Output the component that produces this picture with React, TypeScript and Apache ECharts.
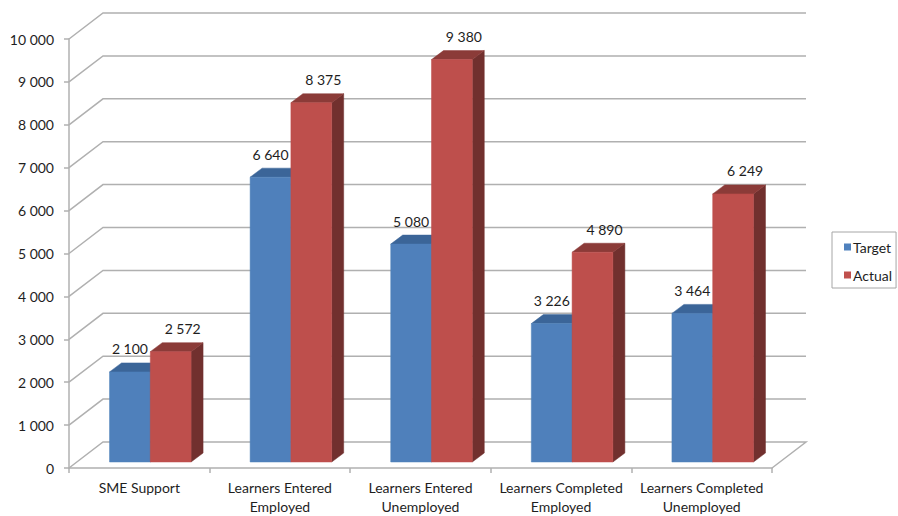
import React, { useEffect, useRef } from "react";
import * as echarts from "echarts";

const categories = [
  "SME Support",
  "Learners Entered\nEmployed",
  "Learners Entered\nUnemployed",
  "Learners Completed\nEmployed",
  "Learners Completed\nUnemployed",
];
const targetValues = [2100, 6640, 5080, 3226, 3464];
const actualValues = [2572, 8375, 9380, 4890, 6249];
const yTicks = [0, 1000, 2000, 3000, 4000, 5000, 6000, 7000, 8000, 9000, 10000];

const FONT = "Lato, 'Liberation Sans', sans-serif";
const TEXT_COLOR = "#1e1e1e";
const WALL_COLOR = "#b0b0b0";

// oblique projection: back wall offset, bar front-plane offset, bar depth
const WALL_DX = 34;
const WALL_DY = -26;
const FRONT_DX = 11;
const FRONT_DY = -6;
const DEPTH_DX = 12;
const DEPTH_DY = -9;

const fmt = (v: number) => String(v).replace(/\B(?=(\d{3})+(?!\d))/g, " ");

type Palette = { front: string; top: string; side: string };

function barRenderer(slot: number, pal: Palette, labelShift: number) {
  return (params: any, api: any) => {
    const idx = api.value(0);
    const val = api.value(1);
    const [cx, yBase] = api.coord([idx, 0]);
    const yVal = api.coord([idx, val])[1];
    const band = api.size([1, 0])[0];
    const w = band * 0.29;
    const x0 = cx + (slot === 0 ? -w : 0) + FRONT_DX;
    const x1 = x0 + w;
    const yb = yBase + FRONT_DY;
    const yt = yVal + FRONT_DY;
    const poly = (points: number[][], color: string) => ({
      type: "polygon",
      shape: { points },
      style: { fill: color, stroke: color, lineWidth: 0.5 },
    });
    return {
      type: "group",
      children: [
        poly(
          [
            [x1, yt],
            [x1 + DEPTH_DX, yt + DEPTH_DY],
            [x1 + DEPTH_DX, yb + DEPTH_DY],
            [x1, yb],
          ],
          pal.side
        ),
        poly(
          [
            [x0, yt],
            [x1, yt],
            [x1 + DEPTH_DX, yt + DEPTH_DY],
            [x0 + DEPTH_DX, yt + DEPTH_DY],
          ],
          pal.top
        ),
        poly(
          [
            [x0, yt],
            [x1, yt],
            [x1, yb],
            [x0, yb],
          ],
          pal.front
        ),
        {
          type: "text",
          x: (x0 + x1) / 2 + labelShift,
          y: yt - 23,
          style: {
            text: fmt(val),
            align: "center",
            verticalAlign: "middle",
            fontSize: 14,
            fontFamily: FONT,
            fill: TEXT_COLOR,
          },
        },
      ],
    };
  };
}

function wallRenderer(params: any, api: any) {
  const v = api.value(1);
  const cs = params.coordSys;
  const y = api.coord([0, v])[1];
  const xl = cs.x;
  const xr = cs.x + cs.width;
  const points = [
    [xl, y],
    [xl + WALL_DX, y + WALL_DY],
    [xr + WALL_DX, y + WALL_DY],
  ];
  if (v === 0) points.push([xr, y]);
  return {
    type: "polyline",
    shape: { points },
    style: { stroke: WALL_COLOR, lineWidth: 1.5, fill: "none" },
  };
}

export default function App() {
  const ref = useRef<HTMLDivElement>(null);

  useEffect(() => {
    if (!ref.current) return;
    const chart = echarts.init(ref.current, undefined, { renderer: "svg" });
    chart.setOption({
      animation: false,
      backgroundColor: "#ffffff",
      grid: { left: 69, top: 39, right: 126, bottom: 48, containLabel: false },
      legend: {
        data: ["Target", "Actual"],
        orient: "vertical",
        left: 832,
        top: 232,
        icon: "rect",
        itemWidth: 7,
        itemHeight: 7,
        itemGap: 12,
        padding: [7, 4, 5, 12],
        borderColor: "#a6a6a6",
        borderWidth: 1,
        textStyle: {
          fontSize: 14,
          fontFamily: FONT,
          color: TEXT_COLOR,
          lineHeight: 16,
          padding: [0, 0, 0, -3],
        },
      },
      xAxis: {
        type: "category",
        data: categories,
        axisLine: { show: true, lineStyle: { color: WALL_COLOR, width: 1.5 } },
        axisTick: { show: true, length: 5, lineStyle: { color: WALL_COLOR, width: 1.5 } },
        axisLabel: {
          interval: 0,
          margin: 10,
          fontSize: 14,
          lineHeight: 19,
          fontFamily: FONT,
          color: TEXT_COLOR,
        },
        splitLine: { show: false },
      },
      yAxis: {
        type: "value",
        min: 0,
        max: 10000,
        interval: 1000,
        axisLine: { show: true, lineStyle: { color: WALL_COLOR, width: 1.5 } },
        axisTick: { show: true, length: 5, lineStyle: { color: WALL_COLOR, width: 1.5 } },
        axisLabel: {
          margin: 15,
          fontSize: 14,
          fontFamily: FONT,
          color: TEXT_COLOR,
          formatter: (v: number) => fmt(v),
        },
        splitLine: { show: false },
      },
      series: [
        {
          name: "walls",
          type: "custom",
          clip: false,
          silent: true,
          z: 1,
          renderItem: wallRenderer,
          data: yTicks.map((v) => [0, v]),
        },
        {
          name: "Target",
          type: "custom",
          clip: false,
          z: 2,
          itemStyle: { color: "#4f81bd" },
          renderItem: barRenderer(0, { front: "#4f80bb", top: "#3b6598", side: "#30527c" }, 0),
          data: targetValues.map((v, i) => [i, v]),
        },
        {
          name: "Actual",
          type: "custom",
          clip: false,
          z: 3,
          itemStyle: { color: "#c0504d" },
          renderItem: barRenderer(1, { front: "#be4f4c", top: "#8b3b38", side: "#71302e" }, 12),
          data: actualValues.map((v, i) => [i, v]),
        },
      ],
    });
    return () => chart.dispose();
  }, []);

  return (
    <div
      ref={ref}
      style={{ position: "fixed", left: 0, top: 0, width: 898, height: 516 }}
    />
  );
}
